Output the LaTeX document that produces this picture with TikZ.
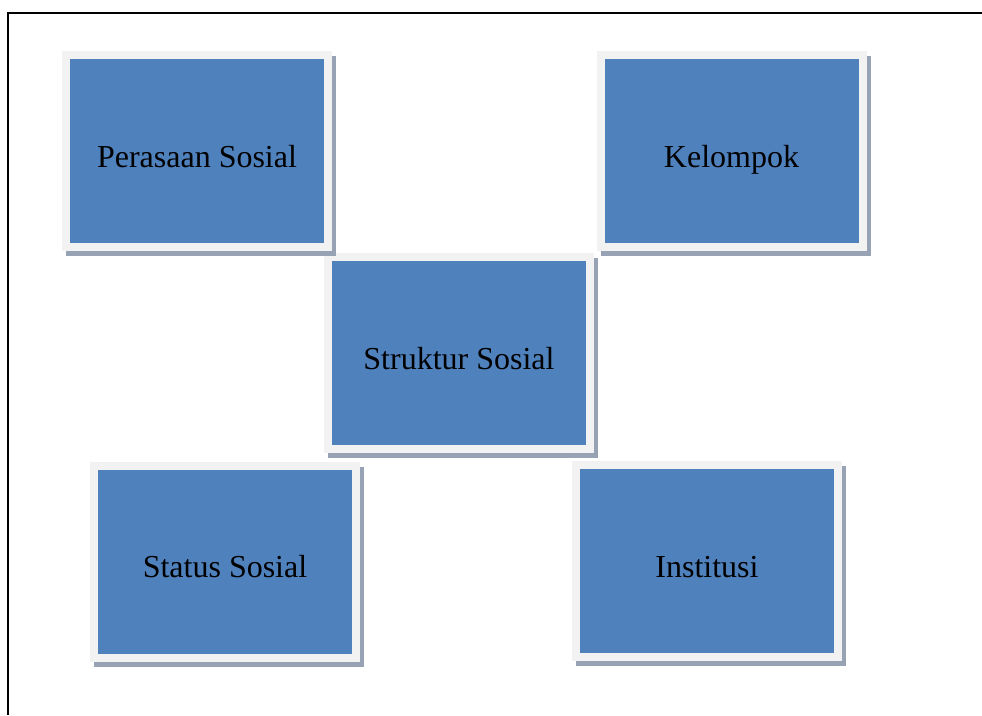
\documentclass[tikz,border=0pt]{standalone}
\usepackage{fontspec}
\setmainfont{Liberation Serif}
\usepackage{xcolor}
\definecolor{boxblue}{HTML}{4F81BD}
\definecolor{framegray}{HTML}{F2F2F2}
\definecolor{shadowgray}{HTML}{97A3B4}

\begin{document}
\begin{tikzpicture}[
  x=1pt, y=-1pt,
  box/.style={rectangle, fill=boxblue, draw=framegray, line width=8pt,
    minimum width=262pt, minimum height=192pt, inner sep=0pt,
    text height=32pt, text depth=0pt,
    font=\fontsize{32}{38}\selectfont,
    preaction={draw=shadowgray, fill=shadowgray, transform canvas={shift={(4pt,-5pt)}}}},
  frame/.style={line width=2.5pt}
]
  \useasboundingbox (0,0) rectangle (982,715);
  % outer frame
  \coordinate (tl) at (8,13);
  \coordinate (tr) at (982,13);
  \coordinate (bl) at (8,715);
  \draw[frame] (tr) -- (tl) -- (bl);

  \node[box] (struktur) at (459,353) {Struktur Sosial};
  \node[box] (perasaan) at (197,151) {Perasaan Sosial};
  \node[box] (kelompok) at (731.5,151) {Kelompok};
  \node[box] (status) at (225,561.5) {Status Sosial};
  \node[box] (institusi) at (707,561) {Institusi};
\end{tikzpicture}
\end{document}
